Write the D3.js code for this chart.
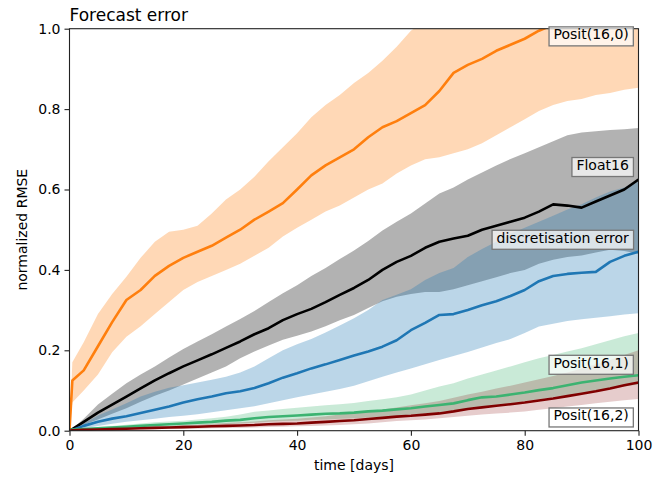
<!DOCTYPE html>
<html>
<head>
<meta charset="utf-8">
<script src="https://cdn.jsdelivr.net/npm/d3@7"></script>
<style>
  body { margin: 0; background: #fff; }
  text { font-family: "DejaVu Sans", sans-serif; fill: #000; }
</style>
</head>
<body>
<div id="chart"></div>
<script>

// dni symulacji
var days = [0, 0.5, 2.5, 5, 7.5, 10, 12.5, 15, 17.5, 20, 22.5, 25, 27.5, 30, 32.5, 35, 37.5, 40, 42.5, 45, 47.5,
            50, 52.5, 55, 57.5, 60, 62.5, 65, 67.5, 70, 72.5, 75, 77.5, 80, 82.5, 85, 87.5, 90, 92.5, 95, 97.5, 100];

// Posit(16,0)
var posit160Mean = [0, 0.125, 0.15, 0.21, 0.27, 0.325, 0.35, 0.385, 0.41, 0.43, 0.445, 0.46, 0.48, 0.5, 0.525, 0.545, 0.566, 0.6, 0.635, 0.66, 0.68,
                    0.7, 0.73, 0.755, 0.77, 0.79, 0.81, 0.845, 0.89, 0.91, 0.925, 0.945, 0.96, 0.975, 0.995, 1.01, 1.03, 1.05, 1.06, 1.08, 1.1, 1.12];
var posit160Upper = [0, 0.17, 0.22, 0.29, 0.34, 0.383, 0.43, 0.47, 0.495, 0.5, 0.51, 0.54, 0.575, 0.6, 0.632, 0.67, 0.705, 0.74, 0.78, 0.81, 0.835,
                     0.865, 0.89, 0.92, 0.955, 0.995, 1.02, 1.05, 1.08, 1.1, 1.12, 1.14, 1.16, 1.18, 1.2, 1.22, 1.24, 1.26, 1.27, 1.28, 1.29, 1.3];
var posit160Lower = [0, 0.07, 0.1, 0.14, 0.195, 0.234, 0.26, 0.29, 0.32, 0.35, 0.37, 0.385, 0.4, 0.415, 0.435, 0.455, 0.483, 0.505, 0.525, 0.545, 0.56,
                     0.58, 0.6, 0.615, 0.64, 0.66, 0.675, 0.68, 0.69, 0.7, 0.715, 0.735, 0.755, 0.775, 0.795, 0.81, 0.82, 0.825, 0.835, 0.84, 0.848, 0.853];

// Float16
var float16Mean = [0, 0.004, 0.022, 0.045, 0.065, 0.085, 0.105, 0.125, 0.143, 0.16, 0.175, 0.19, 0.206, 0.222, 0.24, 0.255, 0.275, 0.29, 0.303, 0.32, 0.338,
                   0.355, 0.375, 0.4, 0.42, 0.435, 0.455, 0.47, 0.478, 0.485, 0.5, 0.51, 0.52, 0.53, 0.545, 0.563, 0.56, 0.555, 0.57, 0.585, 0.6, 0.625];
var float16Upper = [0, 0.005, 0.03, 0.065, 0.092, 0.118, 0.14, 0.16, 0.182, 0.203, 0.222, 0.24, 0.259, 0.278, 0.298, 0.32, 0.342, 0.362, 0.385, 0.405, 0.427,
                    0.448, 0.472, 0.498, 0.52, 0.54, 0.565, 0.59, 0.605, 0.625, 0.642, 0.66, 0.676, 0.69, 0.705, 0.72, 0.735, 0.742, 0.745, 0.748, 0.75, 0.753];
var float16Lower = [0, 0.002, 0.015, 0.028, 0.042, 0.056, 0.072, 0.087, 0.1, 0.115, 0.13, 0.145, 0.16, 0.18, 0.197, 0.212, 0.226, 0.236, 0.247, 0.26, 0.275,
                    0.288, 0.305, 0.322, 0.333, 0.34, 0.345, 0.345, 0.352, 0.362, 0.372, 0.382, 0.392, 0.4, 0.415, 0.425, 0.432, 0.436, 0.443, 0.45, 0.447, 0.44];

// discretisation error
var discMean = [0, 0.002, 0.012, 0.022, 0.03, 0.036, 0.044, 0.052, 0.06, 0.07, 0.078, 0.085, 0.093, 0.098, 0.106, 0.118, 0.132, 0.143, 0.155, 0.165, 0.176,
                0.187, 0.197, 0.209, 0.225, 0.25, 0.268, 0.288, 0.29, 0.3, 0.312, 0.322, 0.335, 0.35, 0.372, 0.385, 0.39, 0.393, 0.395, 0.42, 0.435, 0.445];
var discUpper = [0, 0.003, 0.018, 0.038, 0.053, 0.068, 0.085, 0.097, 0.107, 0.113, 0.12, 0.127, 0.134, 0.145, 0.16, 0.18, 0.2, 0.215, 0.228, 0.244, 0.262,
                 0.28, 0.3, 0.325, 0.338, 0.352, 0.375, 0.392, 0.405, 0.432, 0.452, 0.47, 0.49, 0.505, 0.52, 0.535, 0.55, 0.563, 0.58, 0.595, 0.605, 0.62];
var discLower = [0, 0.001, 0.006, 0.012, 0.017, 0.022, 0.026, 0.03, 0.034, 0.037, 0.041, 0.046, 0.051, 0.056, 0.061, 0.068, 0.076, 0.083, 0.09, 0.097, 0.104,
                 0.112, 0.123, 0.134, 0.145, 0.155, 0.165, 0.176, 0.186, 0.196, 0.207, 0.218, 0.228, 0.243, 0.259, 0.266, 0.273, 0.277, 0.281, 0.285, 0.289, 0.292];

// Posit(16,1)
var posit161Mean = [0, 0.003, 0.004, 0.006, 0.008, 0.01, 0.012, 0.014, 0.016, 0.018, 0.02, 0.022, 0.025, 0.027, 0.031, 0.034, 0.036, 0.038, 0.04, 0.042, 0.043,
                    0.045, 0.048, 0.05, 0.053, 0.056, 0.06, 0.064, 0.068, 0.076, 0.083, 0.085, 0.09, 0.095, 0.101, 0.106, 0.113, 0.12, 0.125, 0.13, 0.134, 0.138];
var posit161Upper = [0, 0.004, 0.006, 0.009, 0.012, 0.015, 0.018, 0.021, 0.023, 0.025, 0.028, 0.031, 0.035, 0.04, 0.047, 0.05, 0.054, 0.057, 0.06, 0.063, 0.066,
                     0.069, 0.074, 0.078, 0.083, 0.09, 0.1, 0.11, 0.118, 0.13, 0.14, 0.15, 0.16, 0.17, 0.18, 0.188, 0.197, 0.205, 0.215, 0.225, 0.235, 0.243];
var posit161Lower = [0, 0.002, 0.003, 0.004, 0.005, 0.006, 0.007, 0.009, 0.01, 0.012, 0.013, 0.015, 0.016, 0.018, 0.02, 0.022, 0.024, 0.025, 0.027, 0.028, 0.03,
                     0.031, 0.033, 0.035, 0.037, 0.04, 0.043, 0.046, 0.05, 0.055, 0.06, 0.064, 0.068, 0.073, 0.078, 0.083, 0.088, 0.093, 0.098, 0.104, 0.11, 0.115];

// Posit(16,2)
var posit162Mean = [0, 0.001, 0.002, 0.003, 0.004, 0.005, 0.006, 0.007, 0.008, 0.009, 0.01, 0.011, 0.012, 0.013, 0.014, 0.016, 0.017, 0.018, 0.02, 0.022, 0.024,
                    0.026, 0.029, 0.032, 0.035, 0.037, 0.04, 0.043, 0.048, 0.054, 0.058, 0.062, 0.066, 0.07, 0.075, 0.08, 0.086, 0.092, 0.098, 0.105, 0.113, 0.12];
var posit162Upper = [0, 0.002, 0.003, 0.005, 0.006, 0.008, 0.009, 0.011, 0.012, 0.014, 0.015, 0.017, 0.019, 0.021, 0.023, 0.026, 0.028, 0.03, 0.033, 0.036, 0.04,
                     0.044, 0.048, 0.053, 0.058, 0.063, 0.068, 0.074, 0.082, 0.09, 0.097, 0.105, 0.112, 0.12, 0.128, 0.136, 0.145, 0.155, 0.165, 0.176, 0.188, 0.2];
var posit162Lower = [0, 0, 0.001, 0.002, 0.002, 0.003, 0.003, 0.004, 0.004, 0.005, 0.005, 0.006, 0.007, 0.007, 0.008, 0.009, 0.01, 0.011, 0.012, 0.013, 0.014,
                     0.016, 0.018, 0.021, 0.024, 0.026, 0.028, 0.031, 0.034, 0.037, 0.04, 0.043, 0.045, 0.048, 0.052, 0.056, 0.06, 0.064, 0.068, 0.072, 0.076, 0.079];

// etykiety serii (tekst, wysokosc na osi y)
var labelNames = ["Posit(16,0)", "Float16", "discretisation error", "Posit(16,1)", "Posit(16,2)"];
var labelLevels = [0.986, 0.661, 0.48, 0.169, 0.038];

var xTicks = [0, 20, 40, 60, 80, 100];
var yTicks = [0, 0.2, 0.4, 0.6, 0.8, 1.0];


/***** obszar rysowania *****/

var margin = {top: 28.7, right: 28.5, bottom: 46.3, left: 69.5};
var width = 667 - margin.left - margin.right,
    height = 477 - margin.top - margin.bottom;

var svg = d3.select("#chart")
    .append("svg")
    .attr("width", 667)
    .attr("height", 477);

var g = svg.append("g")
    .attr("transform", "translate(" + margin.left + "," + margin.top + ")");

var x = d3.scaleLinear().domain([0, 100]).range([0, width]);
var y = d3.scaleLinear().domain([0, 1]).range([height, 0]);

svg.append("defs").append("clipPath")
    .attr("id", "clip")
    .append("rect")
    .attr("width", width)
    .attr("height", height);

var plot = g.append("g").attr("clip-path", "url(#clip)");

// serie: srednia, gorna i dolna granica, kolory
var series = [
    {mean: posit160Mean, up: posit160Upper, lo: posit160Lower, line: "#ff7f0e", fill: "#ff7f0e", alpha: 0.3},
    {mean: float16Mean, up: float16Upper, lo: float16Lower, line: "#000000", fill: "#000000", alpha: 0.3},
    {mean: discMean, up: discUpper, lo: discLower, line: "#1f77b4", fill: "#1f77b4", alpha: 0.3},
    {mean: posit161Mean, up: posit161Upper, lo: posit161Lower, line: "#3cb371", fill: "#3cb371", alpha: 0.28},
    {mean: posit162Mean, up: posit162Upper, lo: posit162Lower, line: "#800000", fill: "#800000", alpha: 0.2}
];

var area = function(s){
    return d3.area()
        .x(function(d, i){ return x(days[i]); })
        .y0(function(d, i){ return y(s.lo[i]); })
        .y1(function(d, i){ return y(s.up[i]); })(days);
};

var line = function(s){
    return d3.line()
        .x(function(d, i){ return x(days[i]); })
        .y(function(d, i){ return y(s.mean[i]); })(days);
};

// pasma
series.forEach(function(s){
    plot.append("path")
        .attr("d", area(s))
        .attr("fill", s.fill)
        .attr("fill-opacity", s.alpha)
        .attr("stroke", "none");
});

// linie
series.forEach(function(s){
    plot.append("path")
        .attr("d", line(s))
        .attr("fill", "none")
        .attr("stroke", s.line)
        .attr("stroke-width", 2.6)
        .attr("stroke-linejoin", "round");
});


/***** osie *****/

var xAxis = g.append("g")
    .attr("transform", "translate(0," + height + ")")
    .call(d3.axisBottom(x).tickValues(xTicks).tickSize(5).tickPadding(4).tickFormat(d3.format("d")));

var yAxis = g.append("g")
    .call(d3.axisLeft(y).tickValues(yTicks).tickSize(5).tickPadding(4).tickFormat(d3.format(".1f")));

[xAxis, yAxis].forEach(function(a){
    a.select(".domain").remove();
    a.selectAll("line").attr("stroke", "#222").attr("stroke-width", 1.1);
    a.selectAll("text").style("font-size", "14px").style("font-family", "DejaVu Sans").attr("fill", "#000");
});

// ramka
g.append("rect")
    .attr("width", width)
    .attr("height", height)
    .attr("fill", "none")
    .attr("stroke", "#222")
    .attr("stroke-width", 1.1);


/***** etykiety serii *****/

labelNames.forEach(function(name, i){
    var lab = g.append("g");
    var t = lab.append("text")
        .attr("x", x(98.3))
        .attr("y", y(labelLevels[i]))
        .attr("dy", "0.36em")
        .attr("text-anchor", "end")
        .style("font-size", "14px")
        .text(name);
    var bb = t.node().getBBox();
    lab.insert("rect", "text")
        .attr("x", bb.x - 4.5)
        .attr("y", bb.y + 0.5)
        .attr("width", bb.width + 9)
        .attr("height", bb.height + 3)
        .attr("fill", "#fff")
        .attr("fill-opacity", 0.7)
        .attr("stroke", "#777")
        .attr("stroke-width", 1.3);
});


/***** teksty *****/

svg.append("text")
    .attr("x", margin.left)
    .attr("y", 20.7)
    .style("font-size", "17px")
    .text("Forecast error");

svg.append("text")
    .attr("x", margin.left + width / 2)
    .attr("y", 470)
    .attr("text-anchor", "middle")
    .style("font-size", "14px")
    .text("time [days]");

svg.append("text")
    .attr("transform", "translate(27," + (margin.top + height / 2) + ") rotate(-90)")
    .attr("text-anchor", "middle")
    .style("font-size", "14px")
    .text("normalized RMSE");

</script>
</body>
</html>
